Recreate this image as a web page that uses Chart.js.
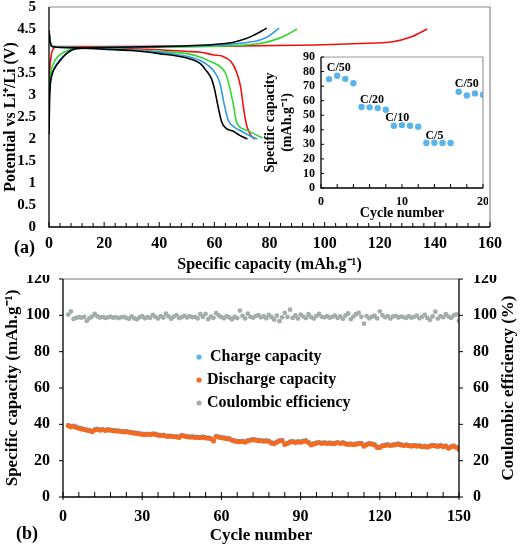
<!DOCTYPE html>
<html>
<head>
<meta charset="utf-8">
<script src="https://cdn.jsdelivr.net/npm/chart.js@4.4.0/dist/chart.umd.min.js"></script>
<style>
html, body { margin: 0; padding: 0; background: #fff; }
#wrap { position: relative; width: 521px; height: 547px; overflow: hidden;
        font-family: 'Liberation Serif', 'Times New Roman', serif; font-weight: bold; }
#wrap canvas { position: absolute; }
.tag { position: absolute; font-size: 18px; line-height: 20px; }
</style>
</head>
<body>
<div id="wrap">
  <canvas id="chartA" width="521" height="275" style="left:0;top:0"></canvas>
  <canvas id="chartInset" width="226" height="175" style="left:262px;top:50px"></canvas>
  <canvas id="chartB" width="521" height="272" style="left:0;top:275px"></canvas>
  <div class="tag" style="left:14px;top:237px">(a)</div>
  <div class="tag" style="left:16px;top:523px">(b)</div>
</div>
<script>
// ---- (a) voltage profiles: [capacity mAh/g, potential V]
var blackCharge = [[0,2.1],[0.2,2.85],[0.5,3.25],[1,3.45],[2,3.6],[4,3.78],[6,3.92],[8,4.01],[10,4.05],[20,4.08],[40,4.1],[55,4.13],[62,4.16],[67,4.2],[71,4.27],[74,4.35],[77,4.45],[79,4.52]];
var blueCharge = [[0,2.9],[0.3,3.2],[1,3.45],[2,3.62],[4,3.8],[6,3.93],[8,4.02],[10,4.06],[20,4.08],[40,4.1],[60,4.13],[70,4.18],[76.6,4.25],[80,4.35],[83.5,4.52]];
var greenCharge = [[0,3.1],[0.5,3.45],[1.5,3.7],[3,3.86],[5,3.96],[8,4.04],[10,4.07],[30,4.09],[60,4.11],[76.6,4.17],[82.6,4.27],[86,4.36],[90,4.5]];
var redCharge = [[0,3.2],[0.3,3.6],[0.8,3.9],[1.5,4.05],[3,4.1],[20,4.1],[60,4.11],[90,4.13],[112.8,4.17],[124.8,4.21],[131,4.31],[137.2,4.5]];

var blackDischarge = [[0,4.47],[0.3,4.25],[0.8,4.12],[2,4.09],[10,4.07],[20,4.04],[30,4.01],[40,3.94],[50,3.84],[55,3.71],[57,3.56],[59,3.36],[60,3.15],[61.3,2.75],[62.7,2.38],[64.3,2.24],[66.7,2.18],[69,2.09],[72,2.0]];
var blueDischarge = [[0,4.45],[0.5,4.2],[1,4.11],[2,4.09],[10,4.08],[20,4.05],[30,4.02],[40,3.97],[50,3.88],[55,3.78],[60,3.53],[62,3.27],[63.5,2.81],[65,2.43],[67,2.28],[70,2.17],[73,2.07],[75.5,2.0]];
var greenDischarge = [[0,4.45],[0.5,4.2],[1,4.12],[2,4.1],[10,4.08],[20,4.06],[30,4.03],[40,3.99],[50,3.94],[55,3.86],[60,3.72],[62,3.65],[64,3.5],[65.5,3.19],[67,2.74],[68,2.39],[69.5,2.26],[72,2.19],[75,2.1],[77.6,2.02]];
var redDischarge = [[0,4.45],[0.5,4.2],[1,4.12],[2,4.1],[10,4.09],[20,4.07],[30,4.05],[40,4.03],[50,3.99],[55,3.97],[60,3.91],[63,3.88],[66,3.76],[68,3.53],[69.5,3.19],[70.5,2.74],[71.5,2.36],[72.5,2.17],[73.5,2.06],[74.7,2.0]];

// ---- inset: rate capability, cycles 1..20
var rateCapacity = [74.8,77.1,75.0,72.0, 55.6,55.4,54.9,53.8, 42.8,43.2,42.8,42.1, 30.9,31.1,30.9,30.9, 66.1,63.6,65.0,64.1];
var rateLabels = [
  {text:'C/50', cycle:2.2, cap:82.4},
  {text:'C/20', cycle:6.3, cap:60.4},
  {text:'C/10', cycle:9.4, cap:48},
  {text:'C/5', cycle:14.0, cap:35.7},
  {text:'C/50', cycle:18.0, cap:71.4}
];

// ---- (b) long cycling, cycles 2..150
var firstCycle = 2;
var chargeCap = [
  39.5,38.9,39.2,38.7,38.1,37.9,37.4,37.1,36.8,36.3,
  37.2,37.5,37.1,37.3,36.9,37.2,37.0,36.8,36.6,36.5,
  36.3,36.1,36.2,35.9,35.7,35.4,35.3,35.0,34.8,34.6,
  34.8,34.6,34.9,34.7,34.3,34.1,34.2,33.8,33.7,33.7,
  33.4,33.3,33.2,34.1,33.7,33.5,33.2,33.3,33.1,33.1,
  32.9,33.2,32.8,32.7,32.3,31.3,33.5,33.2,32.9,32.7,
  32.4,32.2,31.5,31.1,30.8,30.7,30.9,30.6,31.1,31.5,
  31.8,31.6,31.3,31.2,31.0,31.1,30.9,30.0,29.6,30.5,
  31.1,31.3,29.3,29.8,30.5,30.7,30.3,30.6,30.4,30.9,
  31.1,30.2,29.0,29.5,29.9,30.1,29.8,30.0,29.7,29.9,
  29.6,29.8,30.1,29.7,30.0,29.5,29.2,29.4,29.1,29.3,
  29.6,29.7,28.3,29.1,29.6,29.3,28.9,27.7,27.6,28.4,
  28.7,28.9,28.6,28.8,29.1,29.3,28.9,28.6,28.8,28.5,
  28.3,28.6,28.2,28.4,27.9,28.1,27.8,28.2,28.6,28.4,
  28.1,28.5,28.0,28.2,27.2,27.8,28.3,27.6,26.6
];
var dischargeCap = [
  39.2,38.6,38.9,38.3,37.8,37.5,37.1,36.8,36.4,35.9,
  36.9,37.2,36.8,37.0,36.6,36.9,36.7,36.5,36.3,36.2,
  36.0,35.8,35.9,35.6,35.3,35.1,35.0,34.7,34.4,34.3,
  34.5,34.2,34.6,34.4,34.0,33.8,33.9,33.5,33.3,33.4,
  33.1,33.0,32.8,33.9,33.4,33.2,32.9,33.0,32.7,32.8,
  32.6,32.9,32.5,32.4,32.0,30.8,33.2,32.9,32.6,32.4,
  32.1,31.9,31.2,30.7,30.5,30.4,30.6,30.2,30.8,31.2,
  31.5,31.3,31.0,30.9,30.7,30.8,30.6,29.6,29.3,30.2,
  30.8,31.0,28.9,29.5,30.2,30.4,30.0,30.3,30.1,30.6,
  30.8,29.9,28.6,29.2,29.6,29.8,29.5,29.7,29.4,29.6,
  29.3,29.5,29.8,29.4,29.7,29.2,28.9,29.1,28.8,29.0,
  29.3,29.4,27.9,28.8,29.3,29.0,28.6,27.3,27.2,28.1,
  28.4,28.6,28.3,28.5,28.8,29.0,28.6,28.3,28.5,28.2,
  28.0,28.3,27.9,28.1,27.6,27.8,27.4,27.9,28.3,28.1,
  27.8,28.2,27.7,27.9,26.8,27.5,28.0,27.2,26.2
];
var coulombicEff = [
  100.4,102.1,98.0,98.6,99.0,98.7,99.2,96.9,98.4,99.3,
  100.8,99.5,98.8,99.1,98.6,98.9,99.3,98.7,99.0,98.5,
  98.9,99.2,98.6,98.1,99.4,98.3,97.8,98.9,99.5,98.4,
  99.0,98.6,100.2,99.1,98.2,99.6,98.8,100.9,99.4,98.1,
  99.3,100.1,98.5,99.0,99.7,98.8,99.5,98.9,99.2,98.3,
  100.6,99.1,100.8,97.9,99.3,98.6,101.2,99.9,99.0,98.4,
  99.6,98.8,97.8,99.2,98.5,102.6,99.7,98.3,100.9,99.2,
  98.7,99.6,100.1,98.9,99.5,98.4,100.2,99.0,97.6,99.8,
  96.8,98.9,101.4,99.1,103.1,98.6,99.9,98.2,100.4,99.3,
  98.5,100.6,99.0,98.2,99.7,100.8,99.2,98.9,99.6,98.7,
  99.1,99.8,98.6,99.4,98.1,99.9,101.0,97.9,99.3,100.6,
  101.4,99.2,95.4,99.6,98.4,99.1,99.8,98.3,102.2,100.1,
  98.9,99.6,98.2,99.4,99.7,98.8,99.3,99.0,98.6,99.5,
  98.7,99.2,99.8,98.4,99.1,100.3,98.6,97.5,99.4,102.0,
  98.2,99.6,98.9,100.7,99.3,98.6,99.9,100.5,96.9
];

var BLUE = '#5ab4ec', ORANGE = '#f26a21', GREY = '#a3aeab';
var SERIF = "'Liberation Serif', 'Times New Roman', serif";

Chart.defaults.font.family = SERIF;
Chart.defaults.font.weight = 'bold';
Chart.defaults.color = '#000';
Chart.defaults.animation = false;

function pts(arr) { return arr.map(function(p){ return {x: p[0], y: p[1]}; }); }
function fixBox(w, h) {
  return function(s) {
    if (w != null) s.width = w;
    if (h != null) s.height = h;
    s.paddingLeft = s.paddingRight = s.paddingTop = s.paddingBottom = 0;
  };
}
function plainNum(v) { return String(Math.round(v * 10) / 10); }

// frame, inner ticks, notes, legend, right-hand title
var decor = {
  id: 'decor',
  afterDraw: function(chart, args, o) {
    var ctx = chart.ctx, a = chart.chartArea;
    ctx.save();
    ctx.strokeStyle = o.frameColor || '#888';
    ctx.lineWidth = 1.2;
    ctx.beginPath();
    ctx.moveTo(a.left, a.top); ctx.lineTo(a.right, a.top);
    if (!o.rightAxis) ctx.lineTo(a.right, a.bottom);
    ctx.stroke();

    ctx.strokeStyle = '#000';
    ctx.lineWidth = 1.3;
    ctx.beginPath();
    ctx.moveTo(a.left, a.top); ctx.lineTo(a.left, a.bottom); ctx.lineTo(a.right, a.bottom);
    if (o.rightAxis) { ctx.moveTo(a.right, a.top); ctx.lineTo(a.right, a.bottom); }
    ctx.stroke();

    ctx.lineWidth = 1;
    (o.ticks || []).forEach(function(t) {
      var sc = chart.scales[t.id];
      var n = Math.round((sc.max - sc.min) / t.minor);
      for (var i = 0; i <= n; i++) {
        var v = sc.min + i * t.minor;
        var major = Math.abs(v / t.major - Math.round(v / t.major)) < 1e-6;
        var inn = major ? t.majorIn : t.minorIn, out = major ? t.majorOut : 0;
        var p = sc.getPixelForValue(v);
        ctx.beginPath();
        if (sc.isHorizontal()) { ctx.moveTo(p, a.bottom + out); ctx.lineTo(p, a.bottom - inn); }
        else if (sc.position === 'left') { ctx.moveTo(a.left - out, p); ctx.lineTo(a.left + inn, p); }
        else { ctx.moveTo(a.right + out, p); ctx.lineTo(a.right - inn, p); }
        ctx.stroke();
      }
    });

    if (o.notes) {
      ctx.font = 'bold 12px ' + SERIF;
      ctx.fillStyle = '#000';
      ctx.textAlign = 'center';
      ctx.textBaseline = 'middle';
      o.notes.forEach(function(n) {
        ctx.fillText(n.text, chart.scales.x.getPixelForValue(n.cycle), chart.scales.y.getPixelForValue(n.cap));
      });
    }

    if (o.legend) {
      ctx.font = 'bold 16px ' + SERIF;
      ctx.textBaseline = 'middle';
      ctx.textAlign = 'left';
      o.legend.forEach(function(l, i) {
        var y = o.legendY + i * o.legendGap;
        ctx.fillStyle = l.color;
        ctx.beginPath(); ctx.arc(o.legendX, y, 2.6, 0, Math.PI * 2); ctx.fill();
        ctx.fillStyle = '#000';
        ctx.fillText(l.text, o.legendX + l.dx, y);
      });
    }

    if (o.rightTitle) {
      ctx.font = 'bold 17px ' + SERIF;
      ctx.fillStyle = '#000';
      ctx.textAlign = 'center';
      ctx.textBaseline = 'middle';
      ctx.translate(o.rightTitleX, (a.top + a.bottom) / 2);
      ctx.rotate(-Math.PI / 2);
      ctx.fillText(o.rightTitle, 0, 0);
    }
    ctx.restore();
  }
};

function line(data, color) {
  return { data: pts(data), showLine: true, borderColor: color, borderWidth: 1.6,
           pointRadius: 0, cubicInterpolationMode: 'monotone', fill: false };
}

// ---------- chart (a)
new Chart(document.getElementById('chartA'), {
  type: 'scatter',
  data: { datasets: [
    line(blackCharge, '#000'), line(blackDischarge, '#000'),
    line(blueCharge, '#2f98e6'), line(blueDischarge, '#2f98e6'),
    line(greenCharge, '#2fd82f'), line(greenDischarge, '#2fd82f'),
    line(redCharge, '#f01010'), line(redDischarge, '#f01010')
  ]},
  options: {
    responsive: false,
    layout: { padding: { top: 7, right: 31, left: 0, bottom: 0 } },
    plugins: {
      legend: { display: false }, tooltip: { enabled: false },
      decor: { frameColor: '#8a8a8a',
        ticks: [{ id: 'x', major: 20, minor: 4, majorIn: 5, minorIn: 4, majorOut: 0 }] }
    },
    scales: {
      x: { type: 'linear', min: 0, max: 160,
        ticks: { stepSize: 20, font: { size: 16 }, padding: 7, maxRotation: 0 },
        grid: { display: false, drawTicks: false }, border: { display: false },
        title: { display: true, text: 'Specific capacity (mAh.g\u207B\u00B9)', font: { size: 16 }, padding: { top: 0, bottom: 1 } },
        afterFit: fixBox(null, 48) },
      y: { min: 0, max: 5,
        ticks: { stepSize: 0.5, font: { size: 15 }, padding: 13, autoSkip: false, callback: plainNum },
        grid: { display: false, drawTicks: false }, border: { display: false },
        title: { display: true, text: 'Potential vs Li\u207A/Li (V)', font: { size: 16 }, padding: { top: 1, bottom: 0 } },
        afterFit: fixBox(49, null) }
    }
  },
  plugins: [decor]
});

// ---------- inset
new Chart(document.getElementById('chartInset'), {
  type: 'scatter',
  data: { datasets: [{
    data: rateCapacity.map(function(v, i){ return {x: i + 1, y: v}; }),
    backgroundColor: BLUE, borderColor: BLUE, pointRadius: 3.2, borderWidth: 0
  }]},
  options: {
    responsive: false,
    layout: { padding: { top: 7, right: 5, left: 0, bottom: 0 } },
    plugins: {
      legend: { display: false }, tooltip: { enabled: false },
      decor: { frameColor: '#999', notes: rateLabels,
        ticks: [{ id: 'x', major: 10, minor: 2, majorIn: 4, minorIn: 4, majorOut: 0 },
                { id: 'y', major: 10, minor: 10, majorIn: 3, minorIn: 3, majorOut: 0 }] }
    },
    scales: {
      x: { type: 'linear', min: 0, max: 20,
        ticks: { stepSize: 10, font: { size: 12 }, padding: 7, maxRotation: 0, autoSkip: false },
        grid: { display: false, drawTicks: false }, border: { display: false },
        title: { display: true, text: 'Cycle number', font: { size: 14 }, padding: { top: 0, bottom: 3 } },
        afterFit: fixBox(null, 37) },
      y: { min: 0, max: 90,
        ticks: { stepSize: 10, font: { size: 12 }, padding: 6, autoSkip: false },
        grid: { display: false, drawTicks: false }, border: { display: false },
        title: { display: true, text: ['Specific capacity', '(mAh.g\u207B\u00B9)'], font: { size: 14 }, padding: { top: 0, bottom: 0 } },
        afterFit: fixBox(59, null) }
    }
  },
  plugins: [decor]
});

// ---------- chart (b)
function cyc(arr) { return arr.map(function(v, i){ return {x: i + firstCycle, y: v}; }); }
new Chart(document.getElementById('chartB'), {
  type: 'scatter',
  data: { datasets: [
    { label: 'Discharge capacity', data: cyc(dischargeCap), yAxisID: 'y', backgroundColor: ORANGE, borderWidth: 0, pointRadius: 2.5 },
    { label: 'Charge capacity', data: cyc(chargeCap), yAxisID: 'y', backgroundColor: BLUE, borderWidth: 0, pointRadius: 2.4 },
    { label: 'Coulombic efficiency', data: cyc(coulombicEff), yAxisID: 'y2', backgroundColor: GREY, borderWidth: 0, pointRadius: 2.4 }
  ]},
  options: {
    responsive: false,
    layout: { padding: { top: 3, right: 0, left: 0, bottom: 0 } },
    plugins: {
      legend: { display: false }, tooltip: { enabled: false },
      decor: { frameColor: '#777', rightAxis: true,
        rightTitle: 'Coulombic efficiency (%)', rightTitleX: 509,
        legendX: 199, legendY: 82, legendGap: 23,
        legend: [ { text: 'Charge capacity', color: BLUE, dx: 11 },
                  { text: 'Discharge capacity', color: ORANGE, dx: 8 },
                  { text: 'Coulombic efficiency', color: GREY, dx: 8 } ],
        ticks: [{ id: 'x', major: 30, minor: 6, majorIn: 5, minorIn: 5, majorOut: 3 },
                { id: 'y', major: 20, minor: 20, majorIn: 0, minorIn: 0, majorOut: 4 },
                { id: 'y2', major: 20, minor: 20, majorIn: 0, minorIn: 0, majorOut: 4 }] }
    },
    scales: {
      x: { type: 'linear', min: 0, max: 150,
        ticks: { stepSize: 30, font: { size: 16 }, padding: 10, maxRotation: 0 },
        grid: { display: false, drawTicks: false }, border: { display: false },
        title: { display: true, text: 'Cycle number', font: { size: 17 }, padding: { top: 0, bottom: 1 } },
        afterFit: fixBox(null, 50) },
      y: { position: 'left', min: 0, max: 120,
        ticks: { stepSize: 20, font: { size: 16 }, padding: 13 },
        grid: { display: false, drawTicks: false }, border: { display: false },
        title: { display: true, text: 'Specific capacity (mAh.g\u207B\u00B9)', font: { size: 17 }, padding: { top: 2, bottom: 0 } },
        afterFit: fixBox(63, null) },
      y2: { position: 'right', min: 0, max: 120,
        ticks: { stepSize: 20, font: { size: 16 }, padding: 14 },
        grid: { display: false, drawTicks: false }, border: { display: false },
        title: { display: false },
        afterFit: fixBox(62, null) }
    }
  },
  plugins: [decor]
});
</script>
</body>
</html>
